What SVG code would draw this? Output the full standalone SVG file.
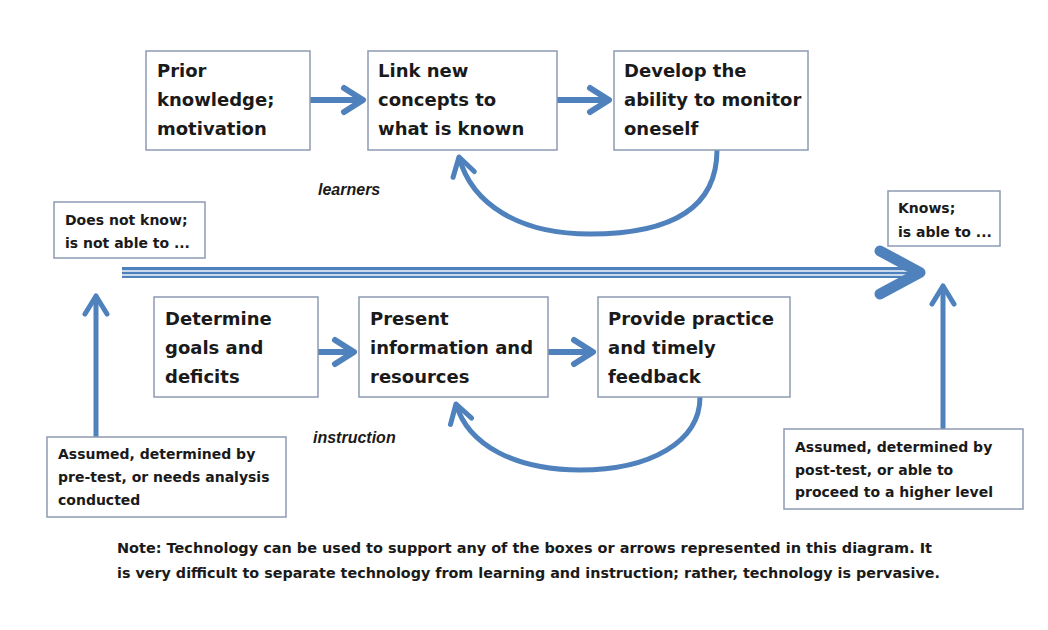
<svg xmlns="http://www.w3.org/2000/svg" width="1048" height="630" viewBox="0 0 1048 630">
<style>
.box{fill:#ffffff;stroke:#8d9bb3;stroke-width:1.5}
.t{font-family:"DejaVu Sans",sans-serif;font-weight:bold;font-size:18px;fill:#1a1a1a}
.s{font-family:"DejaVu Sans",sans-serif;font-weight:bold;font-size:14px;fill:#1a1a1a}
.lab{font-family:"Liberation Sans",Arial,sans-serif;font-weight:bold;font-style:italic;font-size:16px;fill:#1a1a1a}
.note{font-family:"DejaVu Sans",sans-serif;font-weight:bold;font-size:14px;fill:#1a1a1a}
.conn{fill:none;stroke:#4f81bd;stroke-linecap:butt}
</style>
<defs>
<marker id="headL" markerUnits="userSpaceOnUse" viewBox="-26 -16 32 32" markerWidth="32" markerHeight="32" refX="0" refY="0" orient="auto" overflow="visible">
<path d="M-19,-12 L0,0 L-19,12" fill="none" stroke="#4f81bd" stroke-width="6" stroke-linecap="round" stroke-linejoin="round"/>
</marker>
<marker id="headS" markerUnits="userSpaceOnUse" viewBox="-26 -16 32 32" markerWidth="32" markerHeight="32" refX="0" refY="0" orient="auto" overflow="visible">
<path d="M-18,-11 L0,0 L-18,11" fill="none" stroke="#4f81bd" stroke-width="5" stroke-linecap="round" stroke-linejoin="round"/>
</marker>
</defs>
<rect width="1048" height="630" fill="#ffffff"/>

<g id="connectors">
<line class="conn" x1="310" y1="100" x2="363" y2="100" stroke-width="6" marker-end="url(#headL)"/>
<line class="conn" x1="557" y1="100" x2="609" y2="100" stroke-width="6" marker-end="url(#headL)"/>
<path class="conn" d="M717,150 C717,212 665,234 590,234 C520,234 472,205 459,157" stroke-width="5" marker-end="url(#headS)"/>
<line class="conn" x1="318" y1="352" x2="354" y2="352" stroke-width="6" marker-end="url(#headL)"/>
<line class="conn" x1="548" y1="352" x2="593" y2="352" stroke-width="6" marker-end="url(#headL)"/>
<path class="conn" d="M700,397 C700,442 650,470 580,470 C515,470 468,445 456,404" stroke-width="5" marker-end="url(#headS)"/>
<line class="conn" x1="96" y1="437" x2="96" y2="296" stroke-width="5" marker-end="url(#headS)"/>
<line class="conn" x1="943" y1="429" x2="943" y2="286" stroke-width="5" marker-end="url(#headS)"/>
<g id="main-arrow">
<rect x="122" y="267" width="790" height="11" fill="#4f81bd"/>
<rect x="122" y="270.3" width="786" height="1.4" fill="#ffffff"/>
<rect x="122" y="274.3" width="786" height="1.4" fill="#ffffff"/>
<path d="M880,251 L920,272.5 L880,294" fill="none" stroke="#4f81bd" stroke-width="11" stroke-linecap="round" stroke-linejoin="round"/>
</g>
</g>

<g id="prior">
<rect class="box" x="146" y="51" width="164" height="99"/>
<text class="t" x="157" y="77">Prior</text>
<text class="t" x="157" y="106">knowledge;</text>
<text class="t" x="157" y="135">motivation</text>
</g>
<g id="link">
<rect class="box" x="368" y="51" width="189" height="99"/>
<text class="t" x="378" y="77">Link new</text>
<text class="t" x="378" y="106">concepts to</text>
<text class="t" x="378" y="135">what is known</text>
</g>
<g id="develop">
<rect class="box" x="614" y="51" width="194" height="99"/>
<text class="t" x="624" y="77">Develop the</text>
<text class="t" x="624" y="106">ability to monitor</text>
<text class="t" x="624" y="135">oneself</text>
</g>

<g id="learners-label">
<text class="lab" x="318" y="195">learners</text>
</g>

<g id="does-not-know">
<rect class="box" x="54" y="202" width="151" height="56"/>
<text class="s" x="65" y="225">Does not know;</text>
<text class="s" x="65" y="248">is not able to ...</text>
</g>
<g id="knows">
<rect class="box" x="888" y="191" width="112" height="55"/>
<text class="s" x="898" y="213">Knows;</text>
<text class="s" x="898" y="237">is able to ...</text>
</g>

<g id="determine">
<rect class="box" x="154" y="297" width="164" height="100"/>
<text class="t" x="165" y="325">Determine</text>
<text class="t" x="165" y="354">goals and</text>
<text class="t" x="165" y="383">deficits</text>
</g>
<g id="present">
<rect class="box" x="359" y="297" width="189" height="100"/>
<text class="t" x="370" y="325">Present</text>
<text class="t" x="370" y="354">information and</text>
<text class="t" x="370" y="383">resources</text>
</g>
<g id="provide">
<rect class="box" x="598" y="297" width="192" height="100"/>
<text class="t" x="608" y="325">Provide practice</text>
<text class="t" x="608" y="354">and timely</text>
<text class="t" x="608" y="383">feedback</text>
</g>

<g id="instruction-label">
<text class="lab" x="313" y="443">instruction</text>
</g>

<g id="pretest">
<rect class="box" x="47" y="437" width="239" height="80"/>
<text class="s" x="58" y="459">Assumed, determined by</text>
<text class="s" x="58" y="482">pre-test, or needs analysis</text>
<text class="s" x="58" y="505">conducted</text>
</g>
<g id="posttest">
<rect class="box" x="784" y="429" width="239" height="80"/>
<text class="s" x="795" y="452">Assumed, determined by</text>
<text class="s" x="795" y="475">post-test, or able to</text>
<text class="s" x="795" y="497">proceed to a higher level</text>
</g>

<g id="note">
<text class="note" x="117" y="553" textLength="815" lengthAdjust="spacingAndGlyphs">Note: Technology can be used to support any of the boxes or arrows represented in this diagram. It</text>
<text class="note" x="117" y="578" textLength="823" lengthAdjust="spacingAndGlyphs">is very difficult to separate technology from learning and instruction; rather, technology is pervasive.</text>
</g>
</svg>
